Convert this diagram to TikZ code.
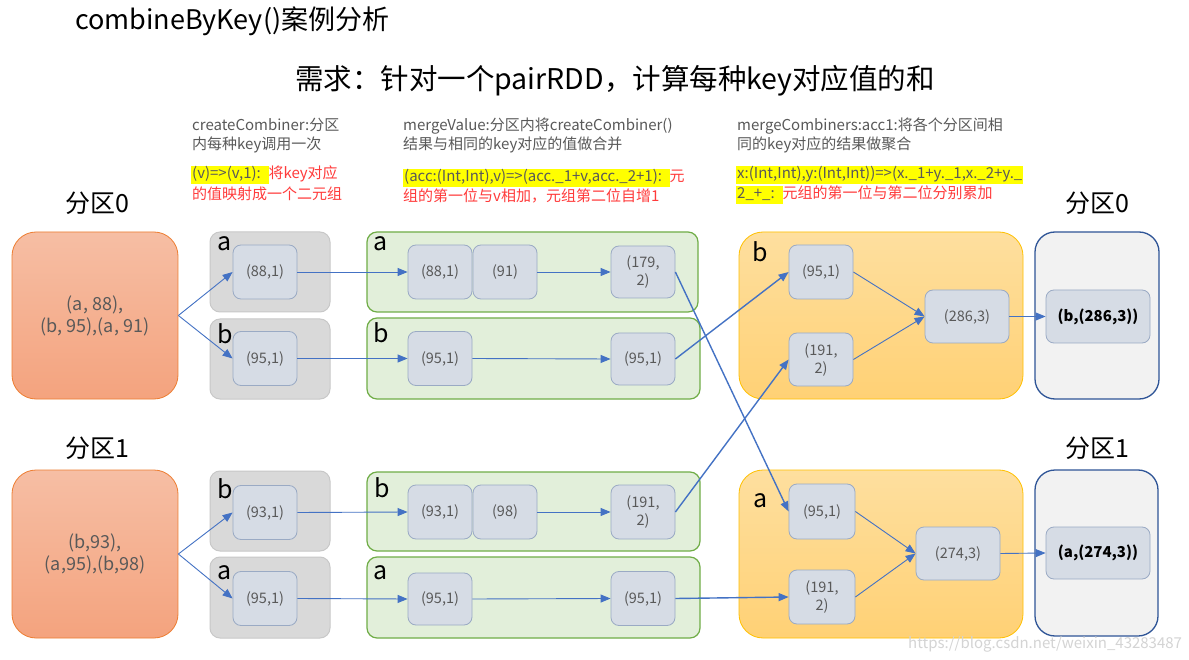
\documentclass[tikz,border=0pt]{standalone}
\usepackage{fontspec}
\setmainfont{Noto Sans CJK SC}
\usetikzlibrary{arrows.meta}
\definecolor{arrowblue}{HTML}{4472C4}
\definecolor{nodefill}{HTML}{D6DCE5}
\definecolor{nodeborder}{HTML}{9AAAC4}
\definecolor{txtgray}{HTML}{595959}
\definecolor{grayfill}{HTML}{D9D9D9}
\definecolor{grayborder}{HTML}{C8C8C8}
\definecolor{greenfill}{HTML}{E2EFDA}
\definecolor{greenborder}{HTML}{70AD47}
\definecolor{orangetop}{HTML}{F6BEA4}
\definecolor{orangebot}{HTML}{F4A37E}
\definecolor{orangeborder}{HTML}{ED7D31}
\definecolor{goldtop}{HTML}{FEDF9F}
\definecolor{goldbot}{HTML}{FFD175}
\definecolor{goldborder}{HTML}{FFC000}
\definecolor{outfill}{HTML}{F2F2F2}
\definecolor{outborder}{HTML}{2F5597}
\definecolor{redtxt}{HTML}{FF3B3B}
\definecolor{hlyellow}{HTML}{FFFF00}
\definecolor{wmark}{HTML}{D4D4D4}
\newcommand\hlbox[1]{{\setlength{\fboxsep}{1pt}\colorbox{hlyellow}{\rule[-4pt]{0pt}{16pt}#1}}}
\begin{document}
\begin{tikzpicture}[x=1pt,y=-1pt,
  inbox/.style={draw=nodeborder, fill=nodefill, rounded corners=8, text=txtgray,
    font=\fontsize{14.5}{18}\selectfont, align=center, inner sep=0pt, line width=0.8pt,
    minimum width=64, minimum height=54},
  graybox/.style={draw=grayborder, fill=grayfill, rounded corners=10, line width=1pt, minimum width=120, minimum height=80},
  greenbox/.style={draw=greenborder, fill=greenfill, rounded corners=10, line width=1.2pt, minimum width=332, minimum height=80},
  srcbox/.style={draw=orangeborder, top color=orangetop, bottom color=orangebot, rounded corners=24, line width=0.8pt,
    minimum width=166, minimum height=167, text=txtgray, align=center, font=\fontsize{18}{22}\selectfont},
  goldbox/.style={draw=goldborder, top color=goldtop, bottom color=goldbot, rounded corners=24, line width=0.8pt,
    minimum width=284, minimum height=167},
  outbox/.style={draw=outborder, fill=outfill, rounded corners=20, line width=1.3pt, minimum width=124, minimum height=167},
  keylbl/.style={anchor=base west, font=\fontsize{25}{25}\selectfont, inner sep=0pt, text=black},
  ann/.style={anchor=base west, font=\fontsize{15}{17}\selectfont, inner sep=0pt, text=txtgray},
  plbl/.style={anchor=base, font=\fontsize{25}{25}\selectfont, inner sep=0pt},
  arr/.style={draw=arrowblue, line width=0.9pt, -{Triangle[length=10pt,width=8pt]}},
  arrthick/.style={arr, line width=1.4pt}]
\useasboundingbox (0,0) rectangle (1189,660);
\fill[white] (0,0) rectangle (1189,660);

% titles
\node[anchor=base west, font=\fontsize{27}{27}\selectfont, inner sep=0pt] (title) at (75,30) {combineByKey()案例分析};
\node[anchor=base, font=\fontsize{28.5}{28}\selectfont, inner sep=0pt] (req) at (615,90) {需求：针对一个pairRDD，计算每种key对应值的和};

% annotations
\node[ann] (a1l1) at (192,131) {createCombiner:分区};
\node[ann] (a1l2) at (192,150) {内每种key调用一次};
\node[ann] (a1l3) at (191,179) {\hlbox{(v)=>(v,1):\ \ }\textcolor{redtxt}{将key对应}};
\node[ann, text=redtxt] (a1l4) at (192,200) {的值映射成一个二元组};

\node[ann] (a2l1) at (403,131) {mergeValue:分区内将createCombiner()};
\node[ann] (a2l2) at (403,150) {结果与相同的key对应的值做合并};
\node[ann] (a2l3) at (403,182) {\hlbox{(acc:(Int,Int),v)=>(acc.\_1+v,acc.\_2+1):\ \ }\textcolor{redtxt}{元}};
\node[ann, text=redtxt] (a2l4) at (403,202) {组的第一位与v相加，元组第二位自增1};

\node[ann] (a3l1) at (737,131) {mergeCombiners:acc1:将各个分区间相};
\node[ann] (a3l2) at (737,150) {同的key对应的结果做聚合};
\node[ann] (a3l3) at (736,179) {\hlbox{x:(Int,Int),y:(Int,Int))=>(x.\_1+y.\_1,x.\_2+y.\_}};
\node[ann] (a3l4) at (736,199) {\hlbox{2\_+\_:\ \ }\textcolor{redtxt}{元组的第一位与第二位分别累加}};

% partition labels
\node[plbl] (p0l) at (97,213) {分区0};
\node[plbl] (p1l) at (97,457) {分区1};
\node[plbl] (p0r) at (1097,213) {分区0};
\node[plbl] (p1r) at (1097,457) {分区1};

% source boxes
\node[srcbox] (o0) at (95,315.5) {(a, 88),\\(b, 95),(a, 91)};
\node[srcbox, minimum height=168] (o1) at (95,554) {(b,93),\\(a,95),(b,98)};

% gray boxes
\node[graybox] (ga0) at (270,272) {};
\node[graybox] (gb0) at (270,359) {};
\node[graybox] (gb1) at (270,511) {};
\node[graybox, minimum height=81] (ga1) at (270,597.5) {};
\node[keylbl] (lga0) at (217,251) {a};
\node[keylbl] (lgb0) at (217,344) {b};
\node[keylbl] (lgb1) at (217,498) {b};
\node[keylbl] (lga1) at (217,579) {a};
\node[inbox] (p0a) at (265,272) {(88,1)};
\node[inbox] (p0b) at (265,358.5) {(95,1)};
\node[inbox] (p1b) at (265,512.5) {(93,1)};
\node[inbox] (p1a) at (265,598.5) {(95,1)};

% green boxes
\node[greenbox, minimum width=331] (gra0) at (532.5,272) {};
\node[greenbox, minimum width=333, minimum height=81] (grb0) at (533.5,358.5) {};
\node[greenbox, minimum width=333, minimum height=79] (grb1) at (533.5,511.5) {};
\node[greenbox, minimum width=333, minimum height=81] (gra1) at (533.5,597.5) {};
\node[keylbl] (lgra0) at (373,251) {a};
\node[keylbl] (lgrb0) at (373,343) {b};
\node[keylbl] (lgrb1) at (374,497) {b};
\node[keylbl] (lgra1) at (373,579) {a};
\node[inbox] (m0a1) at (440,272) {(88,1)};
\node[inbox] (m0a2) at (505,272) {(91)};
\node[inbox, minimum height=52] (m0a3) at (643,272) {(179,\\2)};
\node[inbox] (m0b1) at (440,358.5) {(95,1)};
\node[inbox, minimum height=52] (m0b2) at (643,359) {(95,1)};
\node[inbox] (m1b1) at (440,512) {(93,1)};
\node[inbox] (m1b2) at (505,512) {(98)};
\node[inbox] (m1b3) at (643,512) {(191,\\2)};
\node[inbox, minimum height=52] (m1a1) at (440,599) {(95,1)};
\node[inbox] (m1a2) at (643,598.5) {(95,1)};

% gold boxes
\node[goldbox] (y0) at (881,315.5) {};
\node[goldbox, minimum height=168] (y1) at (881,554) {};
\node[keylbl] (ly0) at (752,262) {b};
\node[keylbl] (ly1) at (753,507) {a};
\node[inbox] (c0a) at (821,272) {(95,1)};
\node[inbox, minimum height=53] (c0b) at (821,359.5) {(191,\\2)};
\node[inbox, minimum width=84, minimum height=53] (c0c) at (967,316.5) {(286,3)};
\node[inbox, minimum width=66, minimum height=55] (c1a) at (822,511.5) {(95,1)};
\node[inbox, minimum width=66] (c1b) at (822,597) {(191,\\2)};
\node[inbox, minimum width=84, minimum height=53] (c1c) at (958,553.5) {(274,3)};

% output boxes
\node[outbox] (r0) at (1097,315.5) {};
\node[outbox, minimum width=123, minimum height=166] (r1) at (1096.5,553) {};
\node[inbox, minimum width=104, minimum height=53, text=black, font=\fontsize{15}{18}\selectfont\bfseries] (f0) at (1098,316.5) {(b,(286,3))};
\node[inbox, minimum width=104, minimum height=52, text=black, font=\fontsize{15}{18}\selectfont\bfseries] (f1) at (1098,553) {(a,(274,3))};

% arrows
\draw[arr] (o0.east) -- (p0a.west);
\draw[arr] (o0.east) -- (p0b.west);
\draw[arr] (o1.east) -- (p1b.west);
\draw[arr] (o1.east) -- (p1a.west);
\draw[arr] (p0a.east) -- (m0a1.west);
\draw[arr] (p0b.east) -- (m0b1.west);
\draw[arr] (p1b.east) -- (m1b1.west);
\draw[arr] (p1a.east) -- (m1a1.west);
\draw[arr] (m0a2.east) -- (m0a3.west);
\draw[arr] (m0b1.east) -- (m0b2.west);
\draw[arr] (m1b2.east) -- (m1b3.west);
\draw[arr] (m1a1.east) -- (m1a2.west);
\draw[arrthick] (m0a3.east) -- (c1a.west);
\draw[arrthick] (m0b2.east) -- (c0a.west);
\draw[arrthick] (m1b3.east) -- (c0b.west);
\draw[arrthick] (m1a2.east) -- (c1b.west);
\draw[arr] (c0a.east) -- (c0c.west);
\draw[arr] (c0b.east) -- (c0c.west);
\draw[arr] (c1a.east) -- (c1c.west);
\draw[arr] (c1b.east) -- (c1c.west);
\draw[arr] (c0c.east) -- (f0.west);
\draw[arr] (c1c.east) -- (f1.west);

% watermark
\node[anchor=base west, font=\fontsize{15}{15}\selectfont, text=wmark, inner sep=0pt] (wm) at (908,648) {https://blog.csdn.net/weixin\_43283487};
\end{tikzpicture}
\end{document}
